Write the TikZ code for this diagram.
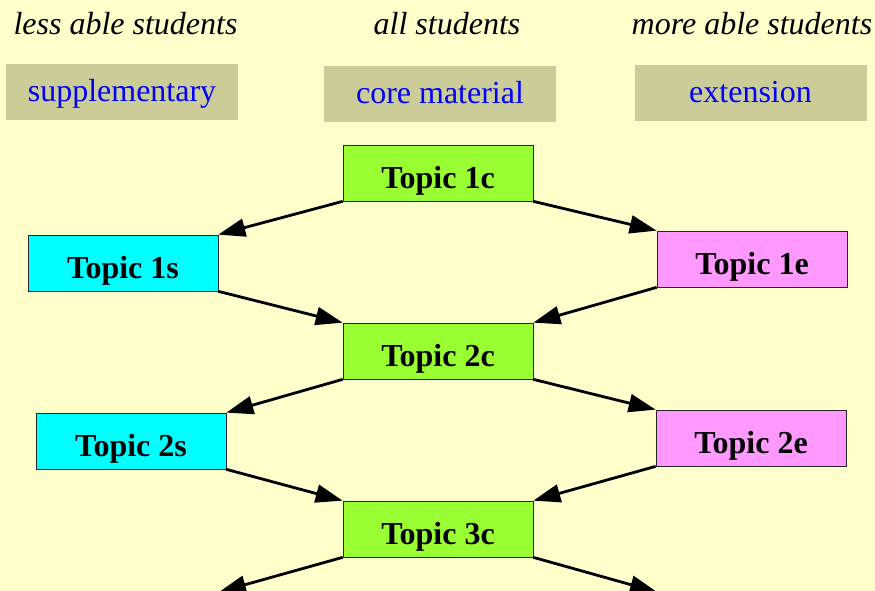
\documentclass[tikz,border=0pt]{standalone}
\usepackage{fontspec}
\setmainfont{Liberation Serif}
\usetikzlibrary{arrows.meta}
\definecolor{paper}{HTML}{FFFFCC}
\definecolor{strand}{HTML}{CCCC99}
\definecolor{corecol}{HTML}{99FF33}
\definecolor{suppcol}{HTML}{00FFFF}
\definecolor{extcol}{HTML}{FF99FF}

\begin{document}
\begin{tikzpicture}[x=1pt,y=-1pt,
 head/.style={font=\fontsize{32}{38}\selectfont\itshape,anchor=base},
 band/.style={fill=strand,minimum width=232pt,minimum height=56pt,inner sep=0pt,
              text height=20pt,text depth=0pt,text=blue,font=\fontsize{32}{38}\selectfont},
 topic/.style={draw=black!85,line width=.7pt,minimum width=190pt,minimum height=56pt,
               inner sep=0pt,text height=30pt,text depth=0pt,font=\fontsize{32}{38}\selectfont\bfseries},
 core/.style={topic,fill=corecol},
 supp/.style={topic,fill=suppcol},
 ext/.style={topic,fill=extcol},
 flow/.style={-{Triangle[length=27pt,width=18pt]},line width=2.8pt}]
\useasboundingbox (0,0) rectangle (875,591);
\fill[paper] (0,0) rectangle (875,591);

\node[head] (lessable) at (125.5,35) {less able students};
\node[head] (allstud) at (447,35) {all students};
\node[head] (moreable) at (752,35) {more able students};

\node[band] (supplementary) at (122,92) {supplementary};
\node[band] (corematerial) at (440,94) {core material};
\node[band] (extension) at (750.5,93) {extension};

\node[core] (t1c) at (438,173) {Topic 1c};
\node[supp] (t1s) at (123,263) {Topic 1s};
\node[ext] (t1e) at (752,259) {Topic 1e};
\node[core] (t2c) at (438,351) {Topic 2c};
\node[supp] (t2s) at (131,441) {Topic 2s};
\node[ext] (t2e) at (751,438) {Topic 2e};
\node[core] (t3c) at (438,529) {Topic 3c};
\coordinate (t3s) at (219,592);
\coordinate (t3e) at (657,592);

\draw[flow] (t1c.south west) -- (t1s.north east);
\draw[flow] (t1c.south east) -- (t1e.north west);
\draw[flow] (t1s.south east) -- (t2c.north west);
\draw[flow] (t1e.south west) -- (t2c.north east);
\draw[flow] (t2c.south west) -- (t2s.north east);
\draw[flow] (t2c.south east) -- (t2e.north west);
\draw[flow] (t2s.south east) -- (t3c.north west);
\draw[flow] (t2e.south west) -- (t3c.north east);
\draw[flow] (t3c.south west) -- (t3s);
\draw[flow] (t3c.south east) -- (t3e);
\end{tikzpicture}
\end{document}
